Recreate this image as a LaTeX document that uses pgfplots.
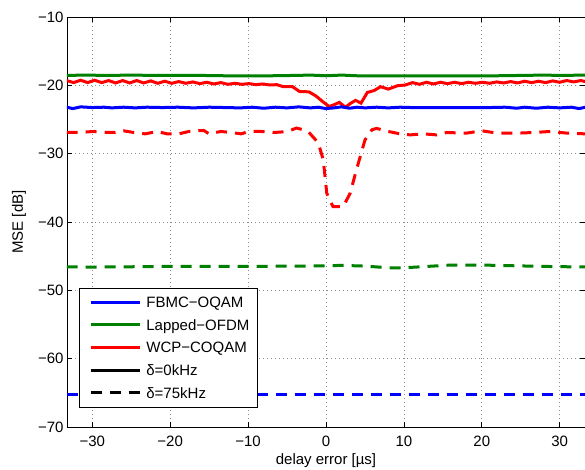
\documentclass[border=0pt]{standalone}
\usepackage{fontspec}
\setmainfont{Liberation Sans}
\usepackage{pgfplots}
\pgfplotsset{compat=1.18}
\definecolor{mblue}{rgb}{0,0,1}
\definecolor{mgreen}{rgb}{0,0.5,0}
\definecolor{mred}{rgb}{1,0,0}
\begin{document}
\begin{tikzpicture}[font=\fontsize{15}{18}\selectfont]
\begin{axis}[
  at={(0pt,0pt)}, anchor=south west,
  scale only axis, width=518pt, height=410pt,
  xmin=-33.25, xmax=33.25, ymin=-70, ymax=-10,
  xtick={-30,-20,-10,0,10,20,30},
  xticklabels={−30,−20,−10,0,10,20,30},
  ytick={-70,-60,-50,-40,-30,-20,-10},
  yticklabels={−70,−60,−50,−40,−30,−20,−10},
  tick align=inside, major tick length=5pt,
  axis line style={line width=0.8pt},
  every tick/.style={black, line width=0.8pt},
  grid=major,
  major grid style={black!45, line width=0.6pt, dash pattern=on 0.8pt off 3.2pt},
  xticklabel style={anchor=base, yshift=-19.5pt},
  xlabel={delay error [µs]},
  ylabel={MSE [dB]},
  xlabel style={at={(axis description cs:0.5,-0.0915)}, anchor=base},
  ylabel style={at={(axis description cs:-0.0927,0.5)}, anchor=center},
  legend style={at={(axis description cs:0.0237,0.048)}, anchor=south west,
    draw=black, line width=0.8pt, fill=white,
    inner xsep=6pt, inner ysep=6.75pt, row sep=8pt, column sep=3.3pt,
    nodes={inner sep=2pt, text height=10.7pt, text depth=0pt},
    cells={anchor=west}},
  legend image code/.code={\path (-3.4pt,0pt); \draw[#1] (0pt,0pt) -- (49pt,0pt);},
]
\addlegendimage{mblue, line width=3pt}
\addlegendentry{FBMC−OQAM}
\addlegendimage{mgreen, line width=3pt}
\addlegendentry{Lapped−OFDM}
\addlegendimage{mred, line width=3pt}
\addlegendentry{WCP−COQAM}
\addlegendimage{black, line width=3pt}
\addlegendentry{δ=0kHz}
\addlegendimage{black, line width=3pt, dash pattern=on 11pt off 8pt}
\addlegendentry{δ=75kHz}

% Lapped-OFDM, 0 kHz
\addplot[mgreen, line width=3pt, forget plot] coordinates {
(-33.3,-18.55) (-31,-18.5) (-28,-18.55) (-25,-18.5) (-22,-18.55) (-19,-18.55)
(-16,-18.55) (-13,-18.6) (-10,-18.6) (-7,-18.6) (-4,-18.55) (-2,-18.5) (0,-18.6)
(2,-18.5) (4,-18.6) (7,-18.6) (10,-18.6) (13,-18.6) (16,-18.6) (19,-18.6)
(22,-18.6) (25,-18.55) (28,-18.5) (30,-18.55) (33.3,-18.5)};

% WCP-COQAM, 0 kHz
\addplot[mred, line width=3pt, forget plot] coordinates {
(-33.3,-19.3) (-32.4,-19.6) (-31.5,-19.25) (-30.6,-19.6) (-29.7,-19.25) (-28.8,-19.6)
(-27.9,-19.3) (-27.0,-19.65) (-26.1,-19.3) (-25.2,-19.65) (-24.3,-19.3) (-23.4,-19.65)
(-22.5,-19.35) (-21.6,-19.7) (-20.7,-19.4) (-19.8,-19.7) (-18.9,-19.45) (-18.0,-19.7)
(-17.1,-19.5) (-16.2,-19.75) (-15.3,-19.55) (-14.4,-19.8) (-13.5,-19.6) (-12.6,-19.85)
(-11.7,-19.7) (-10.8,-19.85) (-9.9,-19.75) (-9.0,-19.9) (-8.1,-19.8) (-7.2,-19.95)
(-6.3,-19.9) (-5.5,-20.2) (-4.3,-20.2) (-3.4,-20.9) (-2.2,-20.95) (-1.3,-21.55)
(-0.4,-22.4) (0.4,-23.1) (1.0,-22.85) (1.7,-22.5) (2.5,-23.2) (3.2,-22.6) (3.8,-22.2)
(4.5,-22.6) (5.3,-21.05) (6.2,-20.75) (7.0,-20.2) (8.0,-20.55) (9.2,-20.05) (10.2,-19.95)
(11.1,-19.6) (12.0,-19.85) (12.9,-19.55) (13.8,-19.8) (14.7,-19.55) (15.6,-19.75)
(16.5,-19.55) (17.4,-19.75) (18.3,-19.55) (19.2,-19.7) (20.1,-19.55) (21.0,-19.7)
(21.9,-19.5) (22.8,-19.65) (23.7,-19.45) (24.6,-19.65) (25.5,-19.4) (26.4,-19.6)
(27.3,-19.4) (28.2,-19.6) (29.1,-19.35) (30.0,-19.55) (30.9,-19.3) (31.8,-19.5)
(32.7,-19.3) (33.3,-19.45)};

% FBMC-OQAM, 0 kHz
\addplot[mblue, line width=3pt, forget plot] coordinates {
(-33.3,-23.2) (-32.5,-23.4) (-31.5,-23.15) (-30,-23.25) (-28.5,-23.2) (-27.5,-23.3)
(-26,-23.2) (-24.5,-23.3) (-23,-23.2) (-21,-23.25) (-19,-23.2) (-17,-23.3) (-15,-23.2)
(-13,-23.25) (-11,-23.3) (-9.5,-23.2) (-8,-23.35) (-6.5,-23.2) (-5,-23.3) (-3.5,-23.15)
(-2,-23.3) (-1,-23.2) (0,-23.4) (1,-23.3) (2,-23.15) (3,-23.35) (4,-23.2) (5,-23.3)
(6.5,-23.2) (8,-23.3) (9.5,-23.2) (11,-23.25) (13,-23.25) (15,-23.25) (17,-23.25)
(19,-23.25) (21,-23.25) (23,-23.2) (24.5,-23.35) (25.5,-23.2) (27,-23.35) (28.5,-23.2)
(30,-23.3) (31.5,-23.2) (32.5,-23.4) (33.3,-23.2)};

% WCP-COQAM, 75 kHz
\addplot[mred, line width=3pt, dash pattern=on 11pt off 8pt, forget plot] coordinates {
(-33.3,-26.9) (-31.6,-26.9) (-29.9,-26.75) (-28.6,-26.9) (-27.1,-26.9) (-26.0,-26.65)
(-24.7,-26.9) (-23.2,-27.1) (-21.7,-26.75) (-20.4,-27.1) (-18.9,-27.1) (-17.6,-26.75)
(-16.5,-26.65) (-15.7,-26.6) (-15.0,-27.1) (-13.5,-26.75) (-12.2,-26.9) (-10.9,-27.1)
(-9.9,-26.75) (-8.4,-26.75) (-6.6,-26.9) (-4.9,-26.75) (-3.8,-26.25) (-2.9,-26.5)
(-2.3,-26.75) (-1.0,-28.4) (-0.35,-30.9) (0.1,-35.8) (0.9,-37.75) (2.2,-37.75)
(3.1,-35.8) (3.9,-32.4) (5.0,-28.0) (5.9,-26.5) (6.5,-26.3) (8.0,-26.75) (9.5,-27.1)
(10.8,-27.25) (12.5,-27.1) (14.2,-27.25) (15.5,-26.9) (18.0,-27.0) (20.0,-26.65)
(22.0,-27.0) (24.5,-27.0) (26.7,-26.9) (28.8,-26.75) (31.0,-27.0) (33.3,-27.1)};

% Lapped-OFDM, 75 kHz
\addplot[mgreen, line width=3pt, dash pattern=on 11pt off 8pt, forget plot] coordinates {
(-33.3,-46.55) (-30,-46.6) (-25,-46.55) (-20,-46.5) (-15,-46.5) (-10,-46.5) (-5,-46.45)
(-3,-46.45) (0,-46.4) (2,-46.35) (5,-46.45) (8,-46.7) (10,-46.7) (13,-46.5) (16,-46.3)
(20,-46.3) (24,-46.4) (28,-46.5) (31,-46.55) (33.3,-46.55)};

% FBMC-OQAM, 75 kHz
\addplot[mblue, line width=3pt, dash pattern=on 11pt off 8pt, forget plot] coordinates {
(-33.3,-65.2) (-20,-65.2) (-10,-65.2) (0,-65.2) (10,-65.2) (20,-65.2) (33.3,-65.2)};
\end{axis}
\pgfresetboundingbox
\useasboundingbox (-67pt,-42pt) rectangle (518pt,427pt);
\end{tikzpicture}
\end{document}
